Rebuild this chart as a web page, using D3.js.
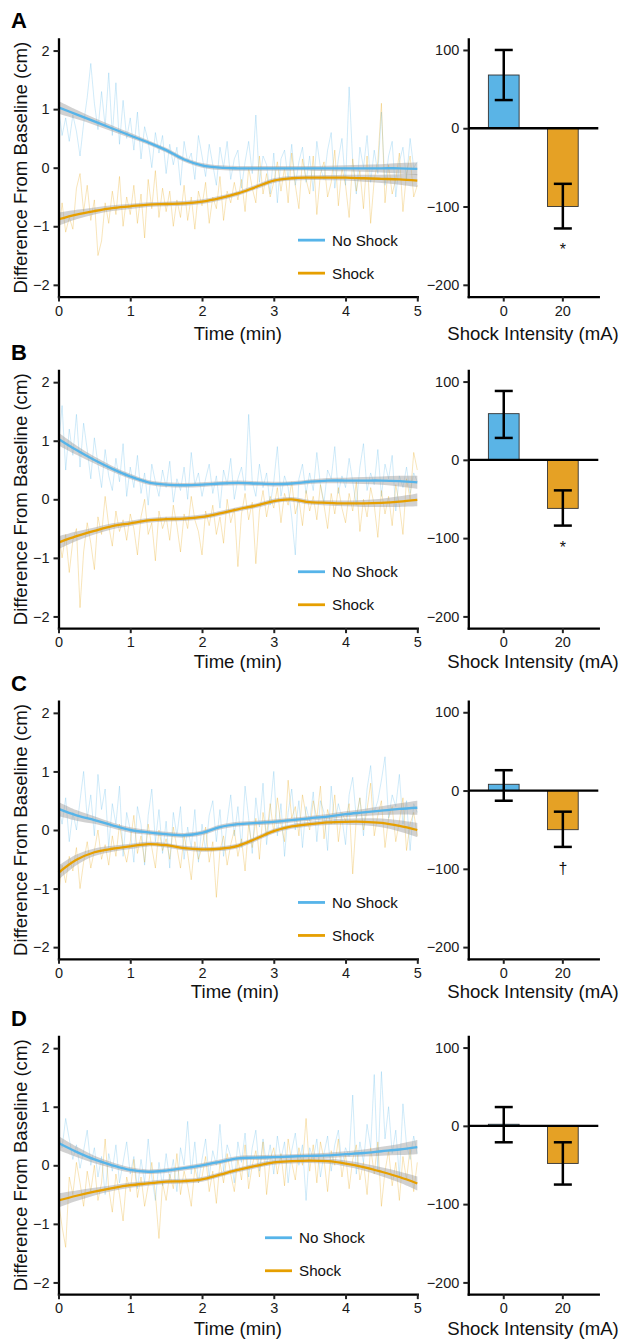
<!DOCTYPE html>
<html>
<head>
<meta charset="utf-8">
<script src="https://cdn.jsdelivr.net/npm/d3@7"></script>
<style>
  body { margin: 0; background: #fff; }
  svg text { font-family: "Liberation Sans", Arial, sans-serif; }
</style>
</head>
<body>
<svg id="fig" width="624" height="1342"></svg>
<script>
// ---- data ----
const panelLabels = ['A', 'B', 'C', 'D']
const seriesNames = ['No Shock', 'Shock']
const seriesColors = ['#56B4E9', '#E69F00']
const barColors = ['#5AB4E6', '#E5A125']
const barCategories = ['0', '20']
const sigMarks = [['', '*'], ['', '*'], ['', '\u2020'], ['', '']]

const xTicksLine = [0, 1, 2, 3, 4, 5]
const yTicksLine = [-2, -1, 0, 1, 2]
const yTicksBar = [-200, -100, 0, 100]

// raw traces, one value every 0.05 min
const rawStep = 0.05
const rawNoShockA = [1.05, 0.55, 0.85, 0.45, 0.9, 0.62, 0.2, 0.75, 1.2, 1.78,
  1.1, 0.65, 1.3, 0.7, 1.62, 0.55, 1.45, 0.4, 1.15, 0.5,
  0.85, 0.3, 0.95, 0.15, 0.7, 0.45, 0.0, 0.6, 0.25, 0.55,
  -0.1, 0.4, 0.05, 0.35, -0.3, 0.45, 0.1, 0.25, -0.2, 0.55,
  0.2, -0.15, 0.4, 0.05, -0.3, 0.35, 0.0, 0.45, -0.2, 0.15,
  0.3, -0.35, 0.1, 0.45, -0.1, 0.9, -0.25, 0.2, 0.05, -0.45,
  0.25, -0.6, 0.15, 0.3, -0.2, 0.4, -0.3, 0.1, 0.35, -0.25,
  0.2, -0.4, 0.45, 0.0, -0.2, 0.3, 0.6, -0.35, 0.15, 0.5,
  -0.3, 1.38, 0.1, -0.45, 0.35, 0.0, 0.55, -0.25, 0.3, -0.1,
  0.95, -0.3, 0.2, 0.45, -0.5, 0.1, 0.35, -0.2, 0.5, 0.0, 0.1]
const rawShockA = [-1.2, -0.6, -1.1, -0.85, -1.05, -0.35, -0.1, -0.75, -0.3, -0.9,
  -0.55, -1.5, -1.25, -0.6, -0.95, -0.4, -0.8, -0.15, -1.0, -0.5,
  -0.8, -0.3, -0.95, -0.45, -1.2, -0.2, -0.7, -0.05, -0.85, -0.35,
  -0.75, -0.4, -1.0, -0.55, -0.85, -0.3, -0.9, -0.5, -1.05, -0.4,
  -0.65, -0.25, -0.95, -0.5, -0.7, -0.15, -0.9, -0.4, -0.6, -0.25,
  -0.55, -0.2, -0.75, 0.0, -0.35, -0.6, 0.2, -0.45, -0.1, -0.5,
  -0.25, 0.1, -0.4, 0.0, -0.6, 0.25, -0.3, -0.7, 0.15, -0.2,
  -0.45, 0.2, -0.8, -0.1, 0.1, -0.5, -0.25, 0.3, -0.65, 0.0,
  -0.3, -0.85, 0.15, -0.4, -0.05, -0.7, 0.2, -0.95, -0.2, 0.1,
  1.1, -0.6, 0.05, -0.45, -0.2, 0.25, -0.75, -0.1, 0.2, -0.5, -0.3]
const rawNoShockB = [0.9, 1.6, 0.5, 1.2, 0.75, 1.45, 0.55, 1.3, 0.85, 0.35,
  1.05, 0.6, 0.2, 0.85, 0.4, 0.15, 0.7, 0.3, 0.95, 0.05,
  0.55, 0.2, 0.75, 0.1, 0.45, -0.1, 0.6, 0.3, 0.05, 0.5,
  0.2, 0.65, -0.05, 0.35, 0.15, 0.55, 0.0, 0.8, 0.25, 0.45,
  0.05, 0.35, 0.6, 0.1, 0.4, -0.15, 0.5, 0.25, 0.7, 0.0,
  0.35, 0.55, 0.15, 1.45, 0.3, 0.05, 0.6, 0.2, 0.45, -0.1,
  0.3, 0.9, 0.05, 0.4, 0.2, -0.3, -0.95, 0.35, 0.6, 0.1,
  0.45, 0.15, 0.8, 0.25, -0.05, 0.5, 0.35, 0.9, 0.1, 0.4,
  0.2, 0.7, 0.3, -0.1, 0.55, 0.95, 0.15, 0.45, 0.25, 0.85,
  0.05, 0.6, 0.35, 0.75, -0.2, 0.4, 0.2, 0.55, 0.1, 0.45, 0.3]
const rawShockB = [-0.55, -1.0, -0.6, -1.25, -0.7, -0.5, -1.85, -0.9, -0.4, -0.75,
  -1.2, -0.3, -0.6, 0.05, -0.45, -0.8, -0.2, -0.55, -0.35, -0.7,
  -0.25, -0.5, -0.95, -0.3, 0.0, -0.6, -0.4, -1.05, -0.2, -0.5,
  -0.3, -0.7, -0.1, -0.45, -0.9, -0.25, -0.5, 0.05, -0.35, -0.55,
  -0.95, -0.2, -0.45, -0.1, -0.6, -0.3, -0.75, 0.0, -0.4, -0.15,
  -1.15, -0.25, 0.1, -0.35, -0.05, -1.1, -0.2, 0.15, -0.3, 0.05,
  -0.15, 0.2, -0.4, 0.1, -0.1, 0.3, -0.25, 0.0, -0.45, 0.15,
  -0.2, 0.05, -0.35, 0.25, -0.1, -0.5, 0.1, -0.25, 0.2, -0.15,
  -0.4, 0.1, -0.2, 0.3, -0.55, 0.0, -0.3, 0.2, -0.1, -0.65,
  0.15, -0.25, 0.05, -0.45, 0.25, -0.1, -0.6, 0.35, 0.0, 0.8, 0.5]
const rawNoShockC = [0.4, 0.1, 0.55, -0.2, 0.3, 0.0, 0.5, 1.0, 0.2, 0.6,
  -0.1, 0.95, 0.35, 0.7, -0.3, 0.45, 0.1, 0.75, -0.45, 0.3,
  0.0, -0.55, 0.4, 0.1, -0.6, 0.25, 0.7, -0.2, 0.35, -0.4,
  0.15, -0.65, 0.3, -0.1, 0.4, -0.5, 0.05, -0.3, 0.35, -0.55,
  0.1, -0.35, 0.25, 0.5, -0.2, 0.35, -0.45, 0.15, 0.6, -0.1,
  0.4, -0.3, 0.75, 0.2, -0.4, 0.55, 0.05, 0.8, -0.25, 0.35,
  1.0, -0.1, 0.45, -0.45, 0.3, 0.7, 0.0, 0.5, -0.3, 0.4,
  0.15, 0.65, -0.2, 0.5, 0.3, -0.35, 0.75, 0.1, 0.45, 0.2,
  -0.25, 0.6, 0.9, 0.2, 0.55, -0.1, 0.7, 1.1, 0.3, 0.5,
  0.85, 1.25, 0.2, 0.6, 0.4, 0.95, 0.1, 0.5, -0.35, 0.45, 0.3]
const rawShockC = [-1.1, -0.6, -0.9, -0.45, -0.7, -0.3, -1.0, -0.55, -0.2, -0.65,
  -0.35, 0.0, -0.5, -0.25, -0.6, -0.1, -0.45, 0.1, -0.3, -0.55,
  -0.2, 0.25, -0.4, -0.1, -0.55, 0.1, -0.3, -0.65, 0.0, -0.35,
  -0.15, -0.5, 0.05, -0.3, -0.65, -0.1, -0.4, -0.85, -0.2, -0.5,
  -0.3, 0.05, -0.55, -0.2, -1.15, -0.35, -0.1, -0.6, -0.25, 0.0,
  -0.45, -0.15, -0.7, 0.1, -0.3, 0.2, -0.5, 0.3, -0.1, 0.45,
  -0.05, 0.55, 0.1, -0.2, 0.85, 0.2, 0.4, -0.1, 0.6, 0.25,
  0.0, 0.5, 0.2, 0.75, -0.15, 0.35, 0.1, 0.6, -0.2, 0.3,
  0.15, 0.45, -0.75, 0.2, 0.55, 0.0, 0.35, 0.8, -0.1, 0.25,
  0.5, -0.3, 0.2, 0.4, -0.2, 0.15, 0.55, -0.35, 0.1, 0.3, -0.1]
const rawNoShockD = [0.5, 0.3, 0.8, 0.45, 0.1, 0.35, -0.05, 0.25, 0.6, 0.0,
  0.3, -0.2, 0.15, -0.5, 0.2, -0.1, 0.35, -0.3, 0.05, 0.4,
  -0.15, 0.15, -0.4, 0.1, -0.3, 0.45, -0.2, -0.6, 0.05, -0.35,
  0.2, -0.25, 0.1, -0.45, 0.3, 0.0, 0.75, -0.15, 0.4, -0.3,
  0.1, 0.45, -0.2, 0.25, 0.0, 0.7, -0.1, 0.35, 0.15, -0.3,
  0.4, 0.05, 0.55, -0.2, 0.3, 0.6, -0.1, 0.45, 0.0, 0.35,
  -0.15, 0.5, 0.1, 0.4, -0.3, 0.25, 0.55, 0.0, 0.35, -0.6,
  0.3, 0.1, 0.45, -0.2, 0.2, 0.5, -0.1, 0.35, 0.6, 0.0,
  0.3, 0.15, 1.2, -0.15, 0.4, 0.05, 0.7, 0.3, 1.55, -0.1,
  1.6, 0.45, 1.0, 0.2, 0.6, -0.2, 1.05, 0.35, 0.1, 0.5, 0.2]
const rawShockD = [-0.6, -1.05, -1.4, -0.2, -0.5, 0.05, -0.3, -0.7, -0.1, -0.45,
  0.0, -0.6, -0.3, 0.45, -0.4, -0.8, -0.15, -0.5, -0.95, -0.2,
  -0.45, 0.1, -0.55, -0.2, -0.7, -0.35, 0.05, -0.5, -1.25, -0.3,
  -0.6, -0.15, -0.4, 0.2, -0.5, -0.1, -0.35, -0.7, -0.05, -0.3,
  -0.2, 0.15, -0.45, -0.1, -0.65, 0.05, -0.3, 0.2, -0.15, -0.45,
  0.1, -0.25, 0.35, -0.4, 0.0, 0.25, -0.2, 0.4, -0.5, 0.1,
  0.3, -0.15, 0.2, -0.35, 0.45, 0.05, -0.25, 0.3, 0.0, 0.8,
  -0.1, 0.35, -0.3, 0.4, 0.1, -0.45, 0.25, 0.0, 0.45, -0.2,
  0.2, -0.4, 0.1, 0.35, -0.25, 0.05, -0.5, 0.3, -0.15, 0.4,
  -0.7, -0.1, 0.25, -0.35, 0.05, -0.6, 0.15, -0.25, 0.3, -0.45, 0.05]

// smoothed fits and their band half-widths
const smoothTimes = [0, 0.25, 0.5, 0.75, 1, 1.25, 1.5, 1.75, 2, 2.25, 2.5,
  2.75, 3, 3.25, 3.5, 3.75, 4, 4.25, 4.5, 4.75, 5]
const smoothNoShockA = [1.03, 0.91, 0.79, 0.67, 0.55, 0.43, 0.30, 0.14, 0.04, 0.00, -0.01,
  -0.01, -0.01, -0.01, -0.01, -0.01, -0.01, -0.01, -0.01, -0.01, -0.02]
const smoothShockA = [-0.88, -0.80, -0.74, -0.69, -0.66, -0.63, -0.62, -0.61, -0.58, -0.52, -0.44,
  -0.33, -0.22, -0.18, -0.17, -0.17, -0.17, -0.18, -0.19, -0.20, -0.22]
const smoothNoShockB = [1.03, 0.84, 0.67, 0.52, 0.39, 0.29, 0.25, 0.24, 0.25, 0.27, 0.28,
  0.27, 0.26, 0.27, 0.30, 0.32, 0.32, 0.32, 0.32, 0.31, 0.29]
const smoothShockB = [-0.74, -0.63, -0.54, -0.46, -0.41, -0.36, -0.34, -0.33, -0.30, -0.24, -0.17,
  -0.11, -0.03, 0.00, -0.05, -0.06, -0.07, -0.07, -0.06, -0.04, -0.01]
const smoothNoShockC = [0.36, 0.25, 0.17, 0.08, 0.00, -0.04, -0.07, -0.09, -0.05, 0.05, 0.10,
  0.12, 0.14, 0.17, 0.20, 0.23, 0.27, 0.30, 0.33, 0.36, 0.38]
const smoothShockC = [-0.73, -0.51, -0.38, -0.32, -0.28, -0.24, -0.26, -0.31, -0.33, -0.32, -0.27,
  -0.15, -0.02, 0.06, 0.10, 0.13, 0.14, 0.14, 0.12, 0.07, 0.00]
const smoothNoShockD = [0.38, 0.23, 0.10, 0.00, -0.08, -0.11, -0.09, -0.05, 0.00, 0.06, 0.12,
  0.13, 0.14, 0.15, 0.16, 0.17, 0.19, 0.21, 0.24, 0.27, 0.31]
const smoothShockD = [-0.60, -0.52, -0.45, -0.39, -0.34, -0.31, -0.28, -0.27, -0.24, -0.16, -0.08,
  -0.01, 0.05, 0.07, 0.08, 0.07, 0.03, -0.03, -0.11, -0.20, -0.31]
const bandA = [0.11, 0.08, 0.06, 0.05, 0.045, 0.04, 0.04, 0.04, 0.04, 0.04, 0.04,
  0.04, 0.04, 0.04, 0.04, 0.045, 0.05, 0.06, 0.07, 0.09, 0.11]
const bandB = [0.11, 0.08, 0.06, 0.05, 0.045, 0.04, 0.04, 0.04, 0.04, 0.04, 0.04,
  0.04, 0.04, 0.04, 0.04, 0.045, 0.05, 0.06, 0.07, 0.09, 0.11]
const bandC = [0.12, 0.09, 0.065, 0.05, 0.045, 0.04, 0.04, 0.04, 0.04, 0.04, 0.04,
  0.04, 0.04, 0.04, 0.04, 0.045, 0.05, 0.06, 0.075, 0.095, 0.12]
const bandD = [0.12, 0.09, 0.065, 0.05, 0.045, 0.04, 0.04, 0.04, 0.04, 0.04, 0.04,
  0.04, 0.04, 0.04, 0.04, 0.045, 0.05, 0.06, 0.075, 0.095, 0.12]

// bar chart: mean and error limits per shock intensity
const barMeans = [[68, -100], [59, -62], [8, -50], [2, -48]]
const barLow = [[36, -128], [28, -84], [-13, -72], [-21, -75]]
const barHigh = [[100, -71], [88, -39], [26, -27], [24, -21]]

const rawSeries = [[rawNoShockA, rawShockA], [rawNoShockB, rawShockB],
  [rawNoShockC, rawShockC], [rawNoShockD, rawShockD]]
const smoothSeries = [[smoothNoShockA, smoothShockA], [smoothNoShockB, smoothShockB],
  [smoothNoShockC, smoothShockC], [smoothNoShockD, smoothShockD]]
const bands = [bandA, bandB, bandC, bandD]

// ---- layout ----
const rowTop = [38.85, 370.45, 701.15, 1036.45]
const rowH = 257.7
const lineLeft = 58.5, lineRight = 417.3
const barLeft = 468.3, barRight = 598.3
const legendX = [298, 298, 298, 265]
const titleGap = [43, 40, 39, 40.5]
const FONT = '"Liberation Sans", Arial, sans-serif'

const svg = d3.select('#fig')

const styleAxis = g => {
  g.attr('font-family', FONT).attr('font-size', 14.5)
  g.select('.domain').attr('stroke', '#000').attr('stroke-width', 2.3).attr('stroke-linecap', 'square')
  g.selectAll('.tick line').attr('stroke', '#222').attr('stroke-width', 2)
  g.selectAll('.tick text').attr('fill', '#1a1a1a')
}

panelLabels.forEach((label, i) => {
  const top = rowTop[i]
  const bottom = top + rowH

  // ---------- time course ----------
  const x = d3.scaleLinear().domain([0, 5]).range([lineLeft, lineRight])
  const y = d3.scaleLinear().domain([-2.2, 2.2]).range([bottom, top])
  const g = svg.append('g')

  const rawLine = d3.line().x((d, j) => x(j * rawStep)).y(d => y(d))
  rawSeries[i].forEach((vals, s) => {
    g.append('path').datum(vals)
      .attr('d', rawLine)
      .attr('fill', 'none')
      .attr('stroke', seriesColors[s])
      .attr('stroke-opacity', 0.3)
      .attr('stroke-width', 0.9)
  })

  smoothSeries[i].forEach(vals => {
    const area = d3.area()
      .x((d, j) => x(smoothTimes[j]))
      .y0((d, j) => y(d - bands[i][j]))
      .y1((d, j) => y(d + bands[i][j]))
      .curve(d3.curveCatmullRom)
    g.append('path').datum(vals).attr('d', area)
      .attr('fill', '#999').attr('fill-opacity', 0.45)
  })
  smoothSeries[i].forEach((vals, s) => {
    const line = d3.line().x((d, j) => x(smoothTimes[j])).y(d => y(d)).curve(d3.curveCatmullRom)
    g.append('path').datum(vals).attr('d', line)
      .attr('fill', 'none').attr('stroke', seriesColors[s]).attr('stroke-width', 2.3)
  })

  g.append('g').attr('transform', `translate(${lineLeft},0)`)
    .call(d3.axisLeft(y).tickValues(yTicksLine).tickFormat(d3.format('d')).tickSize(5).tickSizeOuter(0).tickPadding(4))
    .call(styleAxis)
  g.append('g').attr('transform', `translate(0,${bottom})`)
    .call(d3.axisBottom(x).tickValues(xTicksLine).tickFormat(d3.format('d')).tickSize(5).tickSizeOuter(0).tickPadding(4))
    .call(styleAxis)

  g.append('text')
    .attr('transform', `translate(26.8,${(top + bottom) / 2}) rotate(-90)`)
    .attr('text-anchor', 'middle')
    .attr('font-size', 18.6)
    .attr('fill', '#111')
    .text('Difference From Baseline (cm)')
  g.append('text')
    .attr('x', (lineLeft + lineRight) / 2 + (i === 2 ? -3 : 0))
    .attr('y', bottom + titleGap[i])
    .attr('text-anchor', 'middle')
    .attr('font-size', 18.6)
    .attr('fill', '#111')
    .text('Time (min)')

  // legend
  seriesNames.forEach((name, s) => {
    const ly = top + 201.3 + s * 33
    g.append('line')
      .attr('x1', legendX[i]).attr('x2', legendX[i] + 27)
      .attr('y1', ly).attr('y2', ly)
      .attr('stroke', seriesColors[s]).attr('stroke-width', 2.8)
    g.append('text')
      .attr('x', legendX[i] + 34).attr('y', ly).attr('dy', '0.36em')
      .attr('font-size', 15.2).attr('fill', '#111')
      .text(name)
  })

  // panel letter
  svg.append('text')
    .attr('x', 11).attr('y', top - 10.5)
    .attr('font-size', 22).attr('font-weight', 'bold')
    .text(label)

  // ---------- bar chart ----------
  const xb = d3.scaleBand().domain(barCategories).range([barLeft, barRight])
    .paddingInner(0.48).paddingOuter(0.34)
  const yb = d3.scaleLinear().domain([-215, 114.2]).range([bottom, top])
  const gb = svg.append('g')

  barCategories.forEach((c, k) => {
    const m = barMeans[i][k]
    gb.append('rect')
      .attr('x', xb(c)).attr('width', xb.bandwidth())
      .attr('y', yb(Math.max(0, m)))
      .attr('height', Math.abs(yb(m) - yb(0)))
      .attr('fill', barColors[k])
      .attr('stroke', '#333').attr('stroke-width', 0.9)
  })
  gb.append('line')
    .attr('x1', barLeft).attr('x2', barRight)
    .attr('y1', yb(0)).attr('y2', yb(0))
    .attr('stroke', '#000').attr('stroke-width', 2.3)

  barCategories.forEach((c, k) => {
    const cx = xb(c) + xb.bandwidth() / 2
    const lo = yb(barLow[i][k]), hi = yb(barHigh[i][k])
    gb.append('line').attr('x1', cx).attr('x2', cx).attr('y1', lo).attr('y2', hi)
      .attr('stroke', '#000').attr('stroke-width', 2.5)
    ;[lo, hi].forEach(yy => {
      gb.append('line').attr('x1', cx - 9).attr('x2', cx + 9).attr('y1', yy).attr('y2', yy)
        .attr('stroke', '#000').attr('stroke-width', 2.5)
    })
    if (sigMarks[i][k]) {
      gb.append('text')
        .attr('x', cx).attr('y', lo + 27)
        .attr('text-anchor', 'middle').attr('font-size', 16).attr('fill', '#111')
        .text(sigMarks[i][k])
    }
  })

  gb.append('g').attr('transform', `translate(${barLeft},0)`)
    .call(d3.axisLeft(yb).tickValues(yTicksBar).tickFormat(d3.format('d')).tickSize(5).tickSizeOuter(0).tickPadding(4))
    .call(styleAxis)
  gb.append('g').attr('transform', `translate(0,${bottom})`)
    .call(d3.axisBottom(xb).tickSize(5).tickSizeOuter(0).tickPadding(4))
    .call(styleAxis)

  gb.append('text')
    .attr('x', 533).attr('y', bottom + titleGap[i])
    .attr('text-anchor', 'middle')
    .attr('font-size', 18.6)
    .attr('fill', '#111')
    .text('Shock Intensity (mA)')
})
</script>
</body>
</html>
